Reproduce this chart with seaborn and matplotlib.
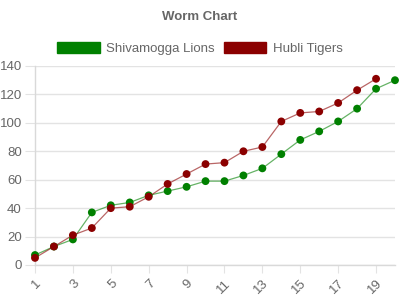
import matplotlib
matplotlib.use("Agg")
import matplotlib.pyplot as plt
from matplotlib.patches import Patch
import seaborn as sns
import pandas as pd

overs_lions = list(range(1, 21))
lions = [7, 13, 18, 37, 42, 44, 49, 52, 55, 59, 59, 63, 68, 78, 88, 94, 101, 110, 124, 130]
overs_tigers = list(range(1, 20))
tigers = [5, 13, 21, 26, 40, 41, 48, 57, 64, 71, 72, 80, 83, 101, 107, 108, 114, 123, 131]
team_names = ["Shivamogga Lions", "Hubli Tigers"]
point_colors = ["#008000", "#8b0000"]
x_ticks = list(range(1, 21, 2))
y_ticks = list(range(0, 141, 20))

df = pd.concat([
    pd.DataFrame({"over": overs_lions, "runs": lions, "team": team_names[0]}),
    pd.DataFrame({"over": overs_tigers, "runs": tigers, "team": team_names[1]}),
])

sns.set_style("white")
plt.rcParams["font.family"] = ["Liberation Sans", "DejaVu Sans"]
fig = plt.figure(figsize=(4, 3), dpi=100)
ax = fig.add_axes([0.0875, 0.1167, 0.9, 0.6633])

pal = dict(zip(team_names, point_colors))
sns.lineplot(data=df, x="over", y="runs", hue="team", palette=pal, ax=ax,
             linewidth=0.9, alpha=0.6, legend=False, zorder=2)
sns.scatterplot(data=df, x="over", y="runs", hue="team", palette=pal, ax=ax,
                s=32, edgecolor=None, linewidth=0, legend=False, zorder=3, clip_on=False)
for coll in ax.collections:
    coll.set_clip_on(False)

ax.set_xlim(1, 20)
ax.set_ylim(0, 140)
ax.set_xticks(x_ticks)
ax.set_yticks(y_ticks)
ax.set_xlabel("")
ax.set_ylabel("")
ax.grid(axis="y", color="#e3e3e3", linewidth=1)
ax.grid(axis="x", visible=False)
for side in ["top", "right"]:
    ax.spines[side].set_visible(False)
for side in ["left", "bottom"]:
    ax.spines[side].set_visible(True)
    ax.spines[side].set_color("#d9d9d9")
    ax.spines[side].set_linewidth(1)
ax.tick_params(axis="y", length=7, color="#e3e3e3", labelsize=9.5, labelcolor="#666666", pad=2.5, left=True)
ax.tick_params(axis="x", length=6, color="#e3e3e3", labelsize=9.5, labelcolor="#666666", pad=3, bottom=True)
for lbl in ax.get_xticklabels():
    lbl.set_rotation(45)
    lbl.set_ha("right")
    lbl.set_rotation_mode("anchor")

fig.text(0.5, 0.943, "Worm Chart", ha="center", va="center", fontsize=9.5,
         fontweight="bold", color="#666666")
handles = [Patch(facecolor=c, edgecolor=c, alpha=1) for c in point_colors]
fig.legend(handles, team_names, loc="center", bbox_to_anchor=(0.5, 0.837), ncol=2,
           frameon=False, fontsize=9.5, handlelength=3.2, handleheight=0.9,
           columnspacing=0.7, handletextpad=0.5, labelcolor="#666666")

fig.savefig("out.png", dpi=100)
